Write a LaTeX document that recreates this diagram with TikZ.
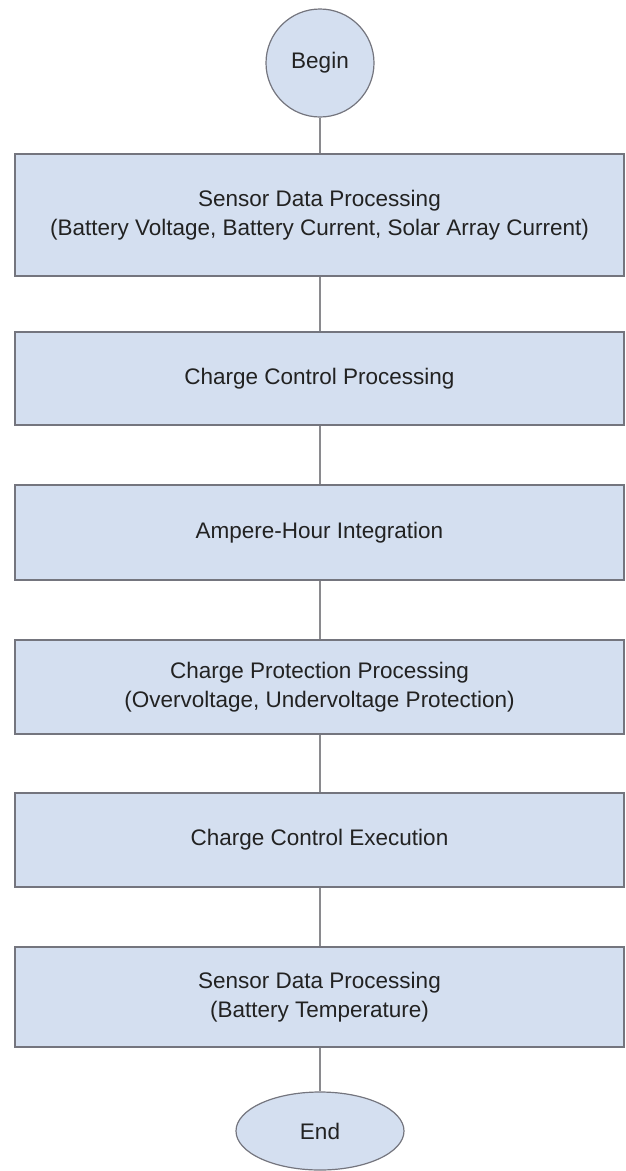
\documentclass[tikz,border=0pt]{standalone}
\usepackage{fontspec}
\setmainfont{Liberation Sans}
\usetikzlibrary{shapes.geometric}

\definecolor{boxfill}{HTML}{D4DFF0}
\definecolor{boxline}{HTML}{74757E}
\definecolor{linkline}{HTML}{8A8A8E}
\definecolor{labeltext}{HTML}{222222}

\tikzset{
  stage/.style={rectangle, draw=boxline, fill=boxfill, line width=1.6pt,
    minimum width=609pt, inner sep=0pt, align=center, text=labeltext,
    font=\fontsize{22.5}{29.5}\selectfont},
  startnode/.style={circle, draw=boxline, fill=boxfill, line width=1.2pt,
    minimum size=108pt, inner sep=0pt, text=labeltext,
    font=\fontsize{22.5}{29.5}\selectfont},
  endnode/.style={ellipse, draw=boxline, fill=boxfill, line width=1.2pt,
    minimum width=168pt, minimum height=78pt, inner sep=0pt, text=labeltext,
    font=\fontsize{22.5}{29.5}\selectfont},
  link/.style={draw=linkline, line width=2pt}
}

\begin{document}
\begin{tikzpicture}[x=1pt, y=-1pt]
  \useasboundingbox (0,0) rectangle (626,1171);

  \node[startnode] (begin) at (320,63) {Begin};

  \node[stage, minimum height=122pt] (s1) at (319.5,215)
    {Sensor Data Processing\\(Battery Voltage, Battery Current, Solar Array Current)};
  \node[stage, minimum height=93pt] (s2) at (319.5,378.5) {Charge Control Processing};
  \node[stage, minimum height=95pt] (s3) at (319.5,532.5) {Ampere-Hour Integration};
  \node[stage, minimum height=94pt] (s4) at (319.5,687)
    {Charge Protection Processing\\(Overvoltage, Undervoltage Protection)};
  \node[stage, minimum height=94pt] (s5) at (319.5,840) {Charge Control Execution};
  \node[stage, minimum height=100pt] (s6) at (319.5,997)
    {Sensor Data Processing\\(Battery Temperature)};

  \node[endnode] (finish) at (320,1131) {End};

  \draw[link] (begin.south) -- (begin.south |- s1.north);
  \draw[link] (s1.south -| begin.south) -- (s2.north -| begin.south);
  \draw[link] (s2.south -| begin.south) -- (s3.north -| begin.south);
  \draw[link] (s3.south -| begin.south) -- (s4.north -| begin.south);
  \draw[link] (s4.south -| begin.south) -- (s5.north -| begin.south);
  \draw[link] (s5.south -| begin.south) -- (s6.north -| begin.south);
  \draw[link] (s6.south -| finish.north) -- (finish.north);
\end{tikzpicture}
\end{document}
